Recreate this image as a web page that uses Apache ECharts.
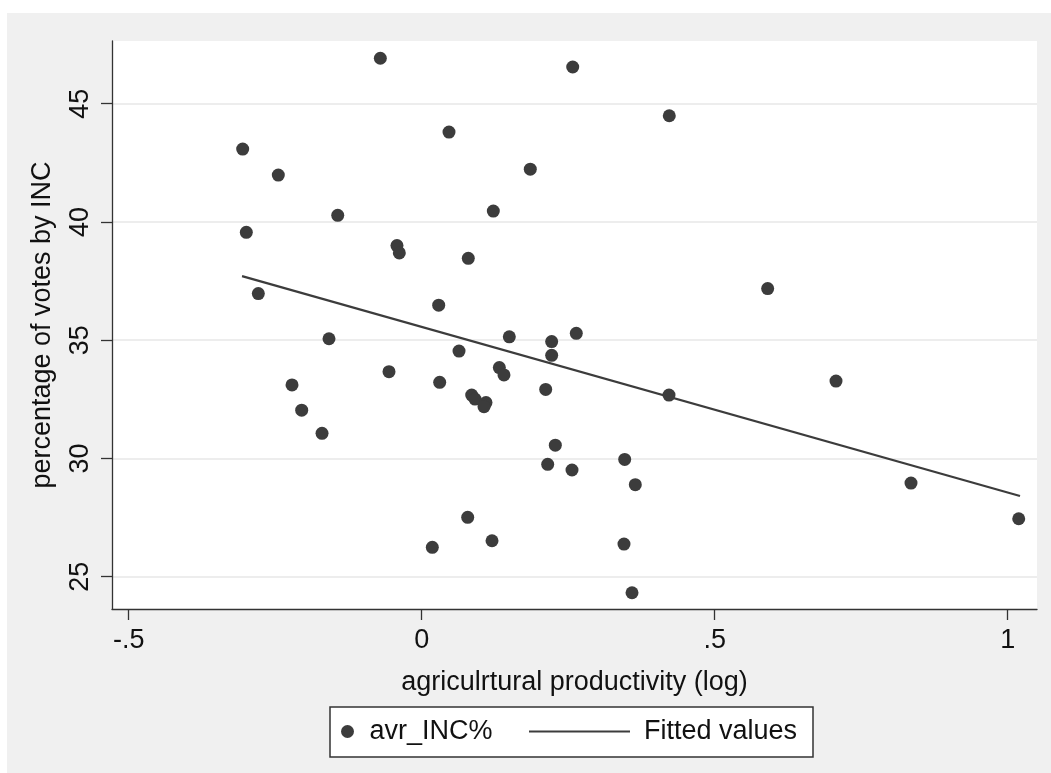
<!DOCTYPE html>
<html>
<head>
<meta charset="utf-8">
<script src="https://cdn.jsdelivr.net/npm/echarts@6/dist/echarts.min.js"></script>
<style>
  html, body { margin: 0; padding: 0; background: #fff; }
  #panel { position: absolute; left: 7px; top: 13px; width: 1044px; height: 760px; background: #f0f0f0; }
  #chart { position: absolute; left: 0; top: 0; width: 1051px; height: 773px; }
</style>
</head>
<body>
<div id="panel"></div>
<div id="chart"></div>
<script>
// agricultural productivity (log) vs. INC vote share
const agriX = [
  -0.0706, -0.3055, -0.2447, -0.1433, -0.2993, -0.0422, -0.0382, -0.2788,
  -0.1582, -0.0558, -0.2213, -0.2048, -0.1701, 0.2577, 0.4225, 0.0466,
  0.1853, 0.1222, 0.0795, 0.029, 0.2638, 0.1495, 0.2218, 0.2218,
  0.0637, 0.1325, 0.1404, 0.0307, 0.2116, 0.422, 0.0853, 0.091,
  0.1097, 0.1063, 0.228, 0.215, 0.2565, 0.3464, 0.3645, 0.0785,
  0.12, 0.0181, 0.3452, 0.3589, 0.835, 1.0188, 0.5904, 0.707
];
const votesY = [
  46.92, 43.08, 41.98, 40.28, 39.56, 39.00, 38.69, 36.97,
  35.06, 33.67, 33.11, 32.04, 31.06, 46.55, 44.49, 43.80,
  42.23, 40.46, 38.46, 36.48, 35.29, 35.14, 34.94, 34.36,
  34.54, 33.84, 33.53, 33.22, 32.92, 32.68, 32.68, 32.51,
  32.36, 32.19, 30.56, 29.75, 29.51, 29.96, 28.89, 27.51,
  26.52, 26.24, 26.38, 24.32, 28.96, 27.45, 37.18, 33.27
];
// fitted line end points
const fitX = [-0.3066, 1.021];
const fitY = [37.71, 28.41];

const xTicks = [-0.5, 0, 0.5, 1];
const yTicks = [25, 30, 35, 40, 45];

const font = "'Liberation Sans', Arial, sans-serif";
const ink = '#3c3c3c';
const fs = 27;

const chart = echarts.init(document.getElementById('chart'), null, { renderer: 'canvas' });

// stata style tick labels: -.5, 0, .5, 1
function stataNum(v) {
  return String(v).replace(/^(-?)0\./, '$1.');
}

const option = {
  backgroundColor: 'transparent',
  animation: false,
  textStyle: { fontFamily: font },
  grid: {
    left: 112, right: 14, top: 41, bottom: 164,
    show: true, backgroundColor: '#fff', borderWidth: 0
  },
  xAxis: {
    type: 'value',
    min: -0.5285, max: 1.05,
    name: 'agriculrtural productivity (log)',
    nameLocation: 'middle',
    nameGap: 60,
    nameTextStyle: { fontSize: fs, color: '#111', fontFamily: font },
    axisLine: { show: true, onZero: false, lineStyle: { color: '#333', width: 1.3 } },
    axisTick: { show: true, length: 11, customValues: xTicks, lineStyle: { color: '#333', width: 1.3 } },
    axisLabel: { customValues: xTicks, margin: 18, fontSize: fs, color: '#111', fontFamily: font, formatter: stataNum },
    splitLine: { show: false }
  },
  yAxis: {
    type: 'value',
    min: 23.634, max: 47.65,
    name: 'percentage of votes by INC',
    nameLocation: 'middle',
    nameGap: 56,
    nameTextStyle: { fontSize: fs, color: '#111', fontFamily: font },
    axisLine: { show: true, onZero: false, lineStyle: { color: '#333', width: 1.3 } },
    axisTick: { show: true, length: 11, customValues: yTicks, lineStyle: { color: '#333', width: 1.3 } },
    axisLabel: { customValues: yTicks, rotate: 90, margin: 18, fontSize: fs, color: '#111', fontFamily: font },
    splitLine: { show: true, lineStyle: { color: '#ededed', width: 2 } }
  },
  graphic: [{
    type: 'rect',
    z: 1,
    shape: { x: 330, y: 707, width: 483, height: 50 },
    style: { fill: '#fff', stroke: '#333', lineWidth: 1.5 }
  }],
  legend: [{
    data: ['avr_INC%'],
    left: 341, top: 718,
    padding: 0,
    itemWidth: 34, itemHeight: 13,
    textStyle: { fontSize: fs, color: '#111', fontFamily: font }
  }, {
    data: [{ name: 'Fitted values', icon: 'rect' }],
    left: 529, top: 718,
    padding: 0,
    itemWidth: 101, itemHeight: 2,
    textStyle: { fontSize: fs, color: '#111', fontFamily: font, padding: [0, 0, 0, 9] }
  }],
  series: [{
    name: 'avr_INC%',
    type: 'scatter',
    symbol: 'circle',
    symbolSize: 13,
    itemStyle: { color: ink, opacity: 1 },
    data: agriX.map((x, i) => [x, votesY[i]]),
    z: 3
  }, {
    name: 'Fitted values',
    type: 'line',
    symbol: 'none',
    lineStyle: { color: ink, width: 2.2 },
    itemStyle: { color: ink },
    data: fitX.map((x, i) => [x, fitY[i]]),
    z: 2
  }]
};

chart.setOption(option);
</script>
</body>
</html>
